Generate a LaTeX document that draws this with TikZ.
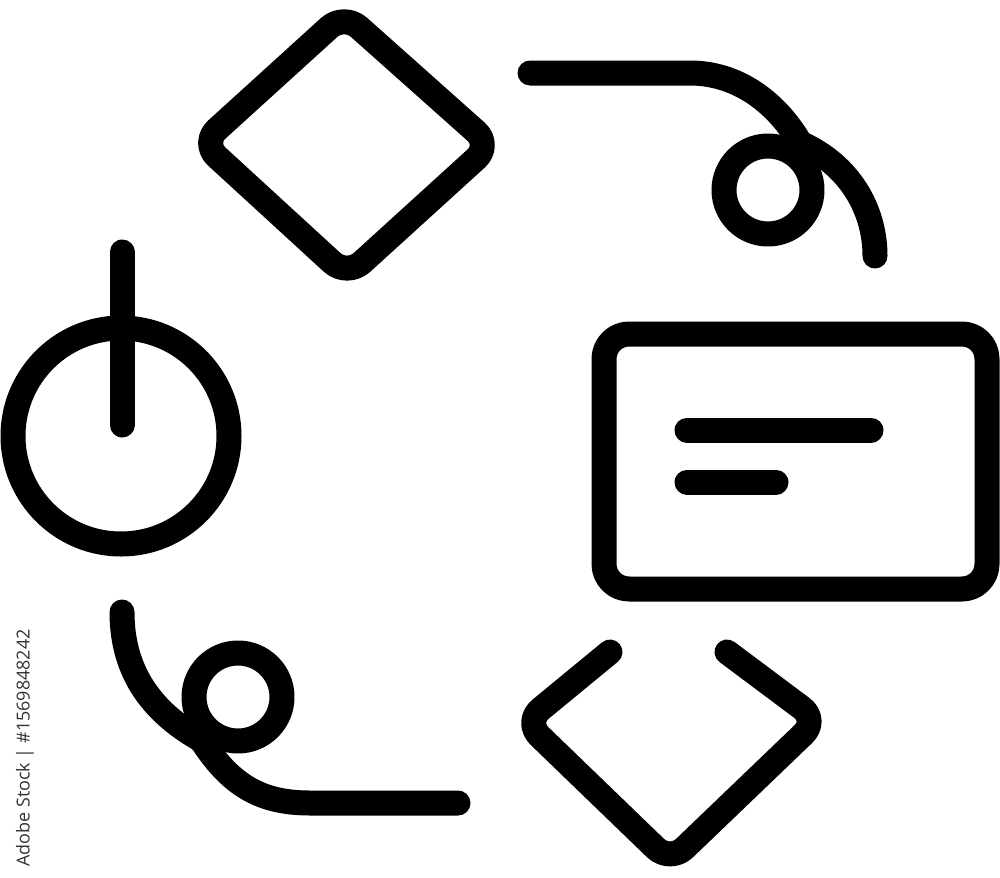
\documentclass[tikz,border=0pt]{standalone}
\usepackage{fontspec}
\newfontfamily\stockfont{Open Sans}
\tikzstyle{glyph}=[line width=5mm, line cap=round, line join=round]
\tikzstyle{stockmark}=[inner sep=0pt, text=black!80, font=\stockfont\fontsize{10.2}{12}\selectfont]

\begin{document}
\begin{tikzpicture}[x=.2mm, y=-.2mm]
    \useasboundingbox (0,0) rectangle (1000,877);

    % power button
    \coordinate (power) at (121,436);
    \draw[glyph] (power) circle (21.6mm);
    \draw[glyph] (122,252) -- (122,425);

    % upper diamond
    \draw[glyph, rounded corners=4mm] (344,14) -- (491,145) -- (347,276) -- (202,143) -- cycle;

    % upper connector with loop
    \coordinate (loopA) at (768,190);
    \draw[glyph] (530,73) -- (690,73) .. controls (742,73) and (783,108) .. (805,152);
    \draw[glyph] (loopA) circle (8.8mm);
    \draw[glyph] (800,143) .. controls (850,165) and (875,210) .. (875,256);

    % card
    \draw[glyph, rounded corners=5mm] (604,334) rectangle (987,589);
    \draw[glyph] (687,430) -- (871,430);
    \draw[glyph] (687,482) -- (776,482);

    % lower diamond, open on top
    \draw[glyph, rounded corners=4mm] (610,652) -- (525,722) -- (670,862) -- (818,720) -- (727,652);

    % lower connector with loop
    \coordinate (loopB) at (238,697);
    \draw[glyph] (122,612) .. controls (122,675) and (155,715) .. (205,742);
    \draw[glyph] (loopB) circle (8.8mm);
    \draw[glyph] (200,738) .. controls (230,785) and (260,803) .. (310,803) -- (458,803);

    \node[stockmark, rotate=90] (stock) at (25,748) {Adobe Stock | \#1569848242};
\end{tikzpicture}
\end{document}
